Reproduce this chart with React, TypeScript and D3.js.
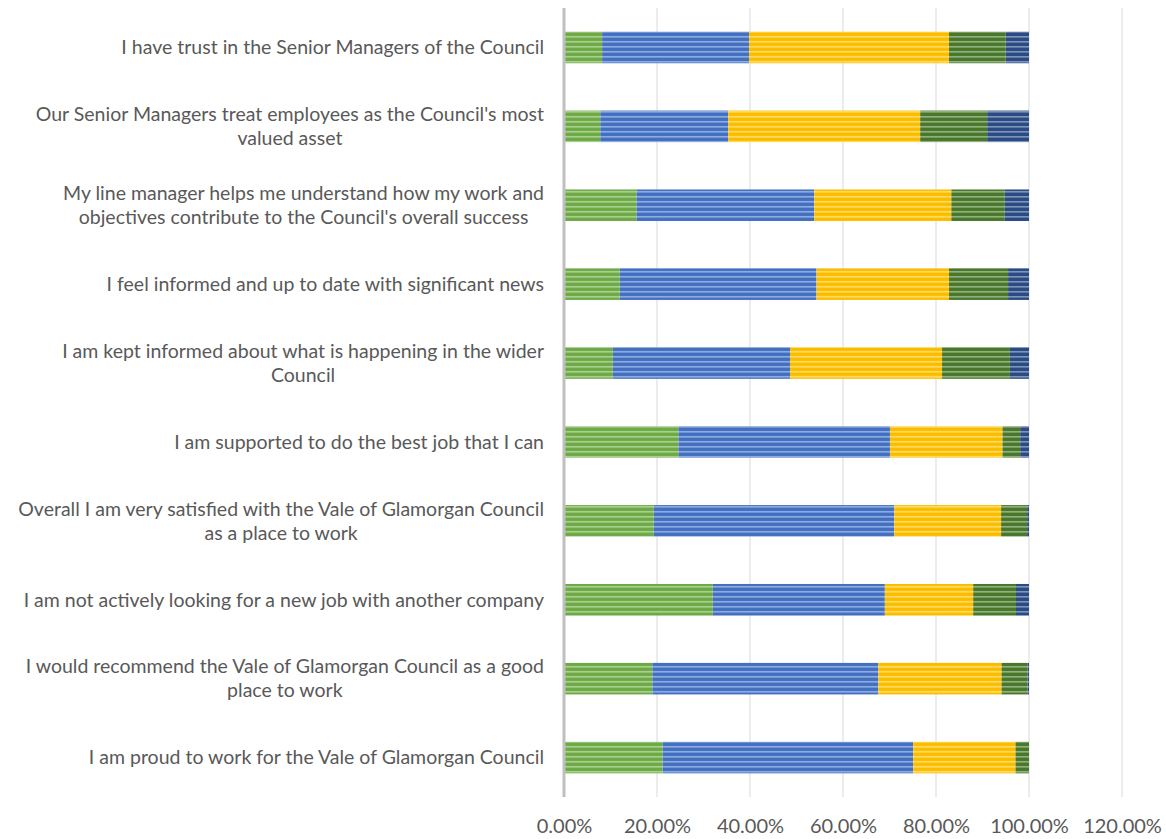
import * as d3 from 'd3';
import {useEffect, useRef} from "react";

const categories = [
    "I have trust in the Senior Managers of the Council",
    "Our Senior Managers treat employees as the Council's most\nvalued asset",
    "My line manager helps me understand how my work and\nobjectives contribute to the Council's overall success",
    "I feel informed and up to date with significant news",
    "I am kept informed about what is happening in the wider\nCouncil",
    "I am supported to do the best job that I can",
    "Overall I am very satisfied with the Vale of Glamorgan Council\nas a place to work",
    "I am not actively looking for a new job with another company",
    "I would recommend the Vale of Glamorgan Council as a good\nplace to work",
    "I am proud to work for the Vale of Glamorgan Council",
];

// shares per answer, in percent
const stronglyAgree = [8.2, 7.8, 15.6, 12.0, 10.5, 24.6, 19.3, 32.0, 19.0, 21.2];
const agree = [31.6, 27.5, 38.2, 42.3, 38.1, 45.5, 51.7, 37.0, 48.6, 53.9];
const neutral = [43.0, 41.3, 29.5, 28.5, 32.7, 24.2, 23.0, 19.0, 26.5, 22.0];
const disagree = [12.2, 14.4, 11.5, 12.7, 14.6, 3.8, 5.6, 9.2, 5.6, 2.9];
const stronglyDisagree = [5.0, 9.0, 5.2, 4.5, 4.1, 1.9, 0.4, 2.8, 0.3, 0.0];

const seriesNames = ["Strongly agree", "Agree", "Neutral", "Disagree", "Strongly disagree"];
const seriesColors = ["#70AD47", "#4472C4", "#FFC000", "#4A7A2C", "#2A4C86"];
const xTicks = [0, 0.2, 0.4, 0.6, 0.8, 1.0, 1.2];

export default function App() {
    const chartRef = useRef(null);

    useEffect(() => {
        const width = 1166;
        const height = 839;
        const marginTop = 8;
        const marginBottom = 42;
        const marginLeft = 564;
        const marginRight = 44;
        const textColor = "#595959";
        const font = "Lato, 'Liberation Sans', sans-serif";

        const rows = categories.map((c, i) => ({
            category: c,
            [seriesNames[0]]: stronglyAgree[i] / 100,
            [seriesNames[1]]: agree[i] / 100,
            [seriesNames[2]]: neutral[i] / 100,
            [seriesNames[3]]: disagree[i] / 100,
            [seriesNames[4]]: stronglyDisagree[i] / 100,
        }));

        const stacked = d3.stack().keys(seriesNames)(rows as any);

        const x = d3.scaleLinear()
            .domain([0, 1.2])
            .range([marginLeft, width - marginRight]);

        const y = d3.scaleBand()
            .domain(categories)
            .range([marginTop, height - marginBottom])
            .paddingInner(0.6)
            .paddingOuter(0.3);

        d3.select(chartRef.current).selectAll("*").remove();

        const svg = d3.select(chartRef.current)
            .append("svg")
            .attr("width", width)
            .attr("height", height)
            .style("position", "absolute")
            .style("left", 0)
            .style("top", 0)
            .style("font-family", font);

        // striped fills
        const defs = svg.append("defs");
        seriesColors.forEach((c, i) => {
            const p = defs.append("pattern")
                .attr("id", `stripe${i}`)
                .attr("patternUnits", "userSpaceOnUse")
                .attr("width", 8)
                .attr("height", 5);
            p.append("rect").attr("width", 8).attr("height", 5).attr("fill", c);
            p.append("rect").attr("y", 1).attr("width", 8).attr("height", 1.6)
                .attr("fill", "#ffffff").attr("opacity", 0.4);
            p.append("rect").attr("y", 3.6).attr("width", 8).attr("height", 1)
                .attr("fill", d3.color(c)!.darker(0.3).toString()).attr("opacity", 0.5);
        });

        // gridlines
        svg.append("g")
            .selectAll("line")
            .data(xTicks.slice(1))
            .join("line")
            .attr("x1", d => x(d))
            .attr("x2", d => x(d))
            .attr("y1", marginTop)
            .attr("y2", height - marginBottom)
            .attr("stroke", "#D9D9D9")
            .attr("stroke-width", 1);

        // bars
        svg.append("g")
            .selectAll("g")
            .data(stacked)
            .join("g")
            .attr("fill", (_, i) => `url(#stripe${i})`)
            .selectAll("rect")
            .data(d => d)
            .join("rect")
            .attr("x", d => x(d[0]))
            .attr("y", d => y((d.data as any).category)!)
            .attr("width", d => x(d[1]) - x(d[0]))
            .attr("height", y.bandwidth());

        // y axis line
        svg.append("line")
            .attr("x1", marginLeft)
            .attr("x2", marginLeft)
            .attr("y1", marginTop)
            .attr("y2", height - marginBottom)
            .attr("stroke", "#BFBFBF")
            .attr("stroke-width", 3);

        // x axis labels
        const xAxis = svg.append("g")
            .attr("transform", `translate(0,${height - marginBottom})`)
            .call(d3.axisBottom(x).tickValues(xTicks).tickFormat(d3.format(".2%")).tickSize(0));
        xAxis.select(".domain").remove();
        xAxis.selectAll("text")
            .attr("y", 22)
            .attr("dy", "0.71em")
            .attr("fill", textColor)
            .style("font-size", "20px")
            .style("font-family", font);

        // category labels, wrapped lines centred in a right-aligned block
        const lineHeight = 24;
        const labels = svg.append("g");
        categories.forEach(c => {
            const lines = c.split("\n");
            const cy = y(c)! + y.bandwidth() / 2;
            const g = labels.append("g");
            const texts = lines.map((l, j) => g.append("text")
                .attr("y", cy + (j - (lines.length - 1) / 2) * lineHeight)
                .attr("dy", "0.35em")
                .attr("fill", textColor)
                .style("font-size", "19.5px")
                .attr("text-anchor", "middle")
                .text(l));
            const w = d3.max(texts, t => (t.node() as SVGTextElement).getComputedTextLength())!;
            texts.forEach(t => t.attr("x", marginLeft - 20 - w / 2));
        });
    }, []);

    return (
        <div ref={chartRef}></div>
    );
}
